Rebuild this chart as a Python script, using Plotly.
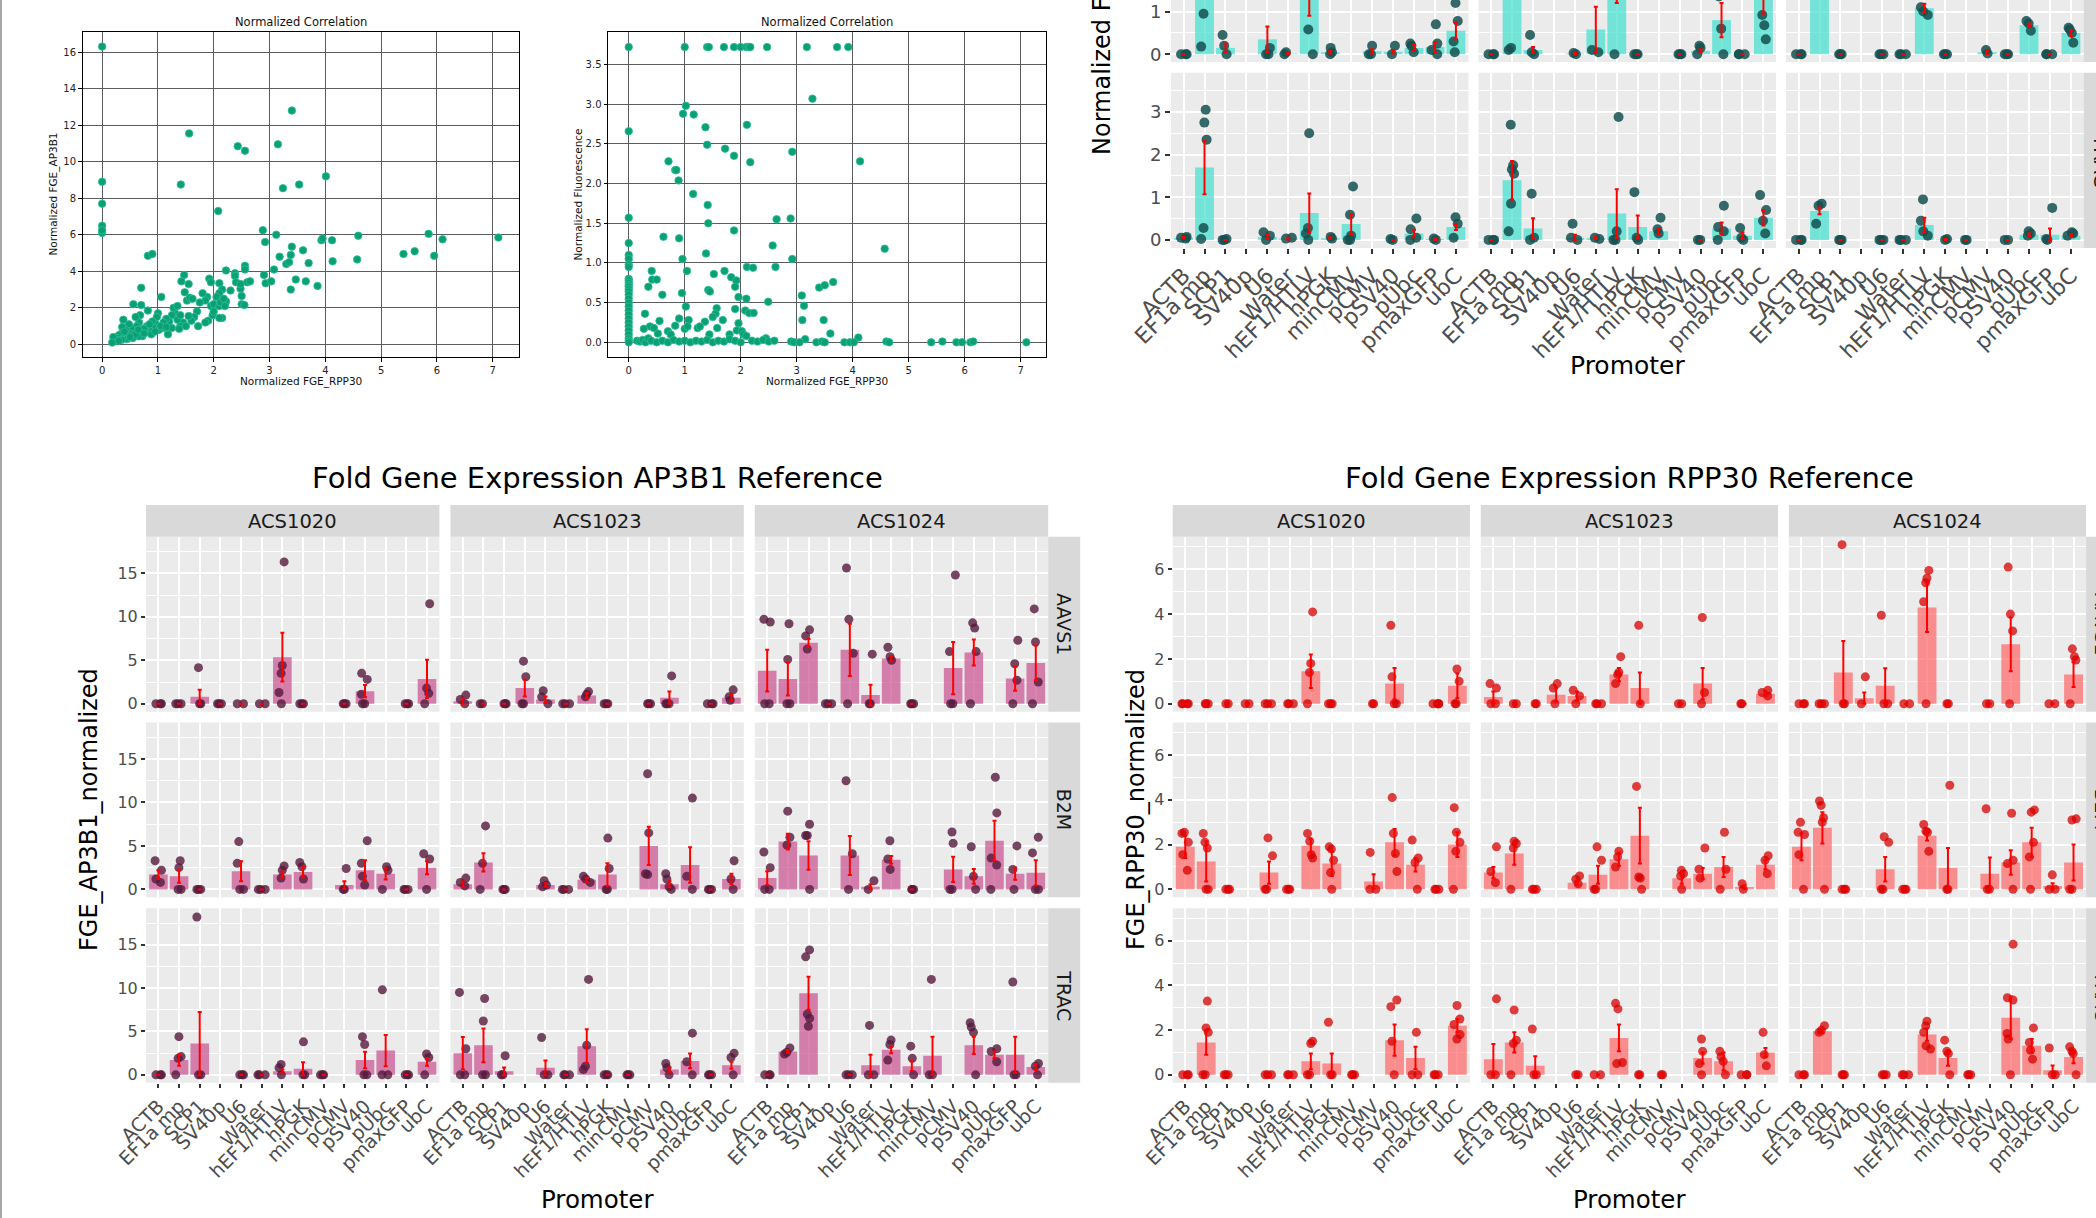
import plotly.graph_objects as go

W, H = 2096, 1218
FONT = "DejaVu Sans"

PROMOTERS = ["ACTB", "EF1a mp", "SCP1", "SV40p", "U6", "Water", "hEF1/HTLV", "hPGK",
             "minCMV", "pCMV", "pSV40", "pUbc", "pmaxGFP", "ubC"]
CELL_LINES = ["ACS1020", "ACS1023", "ACS1024"]
GENES = ["AAVS1", "B2M", "TRAC"]
N = None

# ---------------- scatter data (x = Normalized FGE_RPP30) ----------------
SC1_POINTS = [  # (RPP30, AP3B1)
    (0, 16.3), (0, 8.9), (0, 7.7), (0, 6.5), (0, 6.1), (0, 6.25),
    (1.56, 11.55), (1.41, 8.75), (2.08, 7.3), (2.43, 10.85), (2.56, 10.6), (3.4, 12.8),
    (3.15, 10.95), (3.24, 8.55), (3.53, 8.75), (4.01, 9.2),
    (0.82, 4.85), (0.9, 4.95), (2.88, 6.25), (2.92, 5.6), (3.12, 6.0), (3.18, 4.8), (3.38, 4.9),
    (3.4, 5.35), (3.6, 5.15), (3.3, 4.4), (3.35, 4.5), (3.7, 4.45), (3.93, 5.7), (3.95, 5.8),
    (4.12, 5.7), (4.13, 4.55), (4.59, 5.95), (4.57, 4.65), (5.4, 4.95), (5.6, 5.1), (5.85, 6.05),
    (5.95, 4.85), (6.1, 5.75), (7.1, 5.85),
    (3.08, 4.1), (2.9, 3.8), (2.93, 3.35), (3.03, 3.45), (3.38, 3.0), (3.47, 3.55), (3.65, 3.45), (3.86, 3.2),
    (2.22, 4.05), (2.38, 3.9), (2.38, 3.75), (2.56, 4.3), (2.56, 4.1), (2.6, 3.4), (2.65, 3.45),
    (2.4, 3.4), (2.48, 3.05), (2.48, 3.3), (2.3, 2.95), (2.5, 2.65), (2.5, 2.2), (2.55, 2.15), (2.22, 2.35),
    (1.47, 3.8), (1.42, 3.45), (1.55, 3.3), (1.48, 2.85), (1.52, 2.4), (1.57, 2.55), (1.62, 2.5),
    (1.92, 3.6), (1.95, 3.4), (2.1, 3.35), (2.15, 3.0), (2.1, 2.8), (2.05, 2.6), (1.88, 2.6), (1.85, 2.4),
    (1.8, 2.8), (1.95, 2.1), (2.0, 2.2), (2.1, 2.1), (2.15, 1.45), (2.1, 1.45), (1.9, 1.3), (1.72, 1.0),
    (1.75, 2.3), (1.7, 1.8), (1.65, 1.5), (1.6, 1.3), (1.55, 1.55), (1.45, 1.2), (1.4, 1.0), (1.38, 0.85),
    (1.35, 1.35), (1.3, 1.75), (1.28, 2.0), (1.35, 2.1), (1.25, 1.6), (1.2, 1.25), (1.15, 1.4), (1.1, 1.2),
    (1.06, 2.6), (1.0, 1.7), (0.98, 1.5), (0.95, 1.15), (0.92, 0.9), (0.9, 1.25), (0.85, 0.75), (0.82, 1.85),
    (0.8, 1.0), (0.78, 0.65), (0.75, 0.85), (0.7, 3.1), (0.7, 2.15), (0.68, 1.6), (0.66, 1.2), (0.62, 1.0),
    (0.6, 1.5), (0.58, 0.7), (0.56, 2.2), (0.55, 0.5), (0.52, 0.9), (0.5, 0.6), (0.48, 1.1), (0.45, 0.55),
    (0.42, 0.8), (0.4, 0.45), (0.38, 1.35), (0.36, 0.95), (0.35, 0.6), (0.32, 0.3), (0.3, 0.5), (0.28, 0.35),
    (0.25, 0.25), (0.22, 0.2), (0.2, 0.4), (0.18, 0.1), (1.18, 0.55), (1.02, 0.8), (1.12, 0.9), (0.88, 0.55),
    (0.72, 0.45), (0.65, 0.45), (1.25, 0.9), (1.5, 1.0), (1.85, 1.2), (1.98, 1.6), (2.0, 1.8), (2.12, 2.3),
    (2.18, 2.5), (2.2, 2.1), (1.4, 1.6), (0.55, 0.35), (0.45, 0.3), (0.4, 0.7), (0.6, 0.55), (0.5, 0.4),
    (0.35, 0.25), (0.3, 0.2), (0.65, 0.8), (0.75, 0.6), (1.05, 1.0), (1.15, 0.95), (0.95, 0.7), (0.85, 1.1),
]
SC2_POINTS = [  # (RPP30, Fluorescence)
    (0, 3.72), (1.0, 3.72), (1.4, 3.72), (1.43, 3.72), (1.7, 3.72), (1.88, 3.72), (2.0, 3.72),
    (2.1, 3.72), (2.14, 3.72), (2.17, 3.72), (2.47, 3.72), (3.18, 3.72), (3.72, 3.72), (3.92, 3.72),
    (3.28, 3.07), (0.97, 2.88), (1.02, 2.98), (1.16, 2.87), (1.37, 2.71), (2.11, 2.74), (0, 2.66),
    (1.4, 2.49), (1.72, 2.44), (1.88, 2.35), (2.92, 2.4), (2.17, 2.27), (4.13, 2.28), (0.71, 2.28),
    (0.83, 2.17), (0.85, 2.17), (0.89, 2.04), (1.15, 1.87), (1.41, 1.73), (1.42, 1.5), (0, 1.57),
    (2.64, 1.55), (2.89, 1.56), (1.88, 1.41), (0.62, 1.33), (0.9, 1.31), (2.57, 1.22), (1.38, 1.12),
    (4.57, 1.18), (0, 1.25), (0, 1.1), (0, 1.05), (0, 0.98), (0, 0.95), (0.96, 1.05), (2.92, 1.05),
    (1.04, 0.9), (1.71, 0.9), (2.11, 0.95), (2.22, 0.94), (2.62, 0.95), (0.41, 0.9), (0.42, 0.79),
    (0.5, 0.79), (0.35, 0.7), (1.52, 0.86), (1.83, 0.82), (1.92, 0.78), (1.9, 0.7), (3.4, 0.69),
    (3.5, 0.72), (3.65, 0.76), (0.6, 0.6), (0.95, 0.62), (1.42, 0.66), (1.45, 0.64), (1.96, 0.57),
    (2.1, 0.55), (3.09, 0.59), (3.13, 0.46), (2.49, 0.51), (1.02, 0.45), (1.9, 0.42), (2.08, 0.4),
    (2.15, 0.37), (2.23, 0.37), (1.57, 0.43), (1.55, 0.36), (1.5, 0.32), (0.29, 0.36), (0.55, 0.27),
    (0.9, 0.3), (1.07, 0.28), (1.36, 0.26), (1.68, 0.28), (3.1, 0.28), (3.48, 0.28), (1.96, 0.24),
    (0.38, 0.2), (0.45, 0.18), (0.27, 0.17), (0.83, 0.21), (1.23, 0.18), (1.27, 0.2), (1.58, 0.18),
    (1.0, 0.17), (1.05, 0.2), (1.93, 0.15), (2.02, 0.14), (3.6, 0.11), (1.44, 0.1), (0.52, 0.11),
    (0.7, 0.14), (0.75, 0.1), (1.8, 0.1), (2.05, 0.1), (4.1, 0.06), (3.15, 0.04), (2.45, 0.05), (2.1, 0.08),
    (0, 0.8), (0, 0.78), (0, 0.75), (0, 0.72), (0, 0.7), (0, 0.67), (0, 0.64), (0, 0.6), (0, 0.55),
    (0, 0.5), (0, 0.45), (0, 0.4), (0, 0.35), (0, 0.3), (0, 0.25), (0, 0.2), (0, 0.15), (0, 0.1),
    (0, 0.05), (0, 0.02), (0, 0.0),
    (0.15, 0.02), (0.2, 0.01), (0.25, 0.03), (0.3, 0.0), (0.35, 0.05), (0.4, 0.02), (0.5, 0.0),
    (0.6, 0.02), (0.7, 0.0), (0.8, 0.03), (0.9, 0.01), (1.0, 0.02), (1.1, 0.0), (1.2, 0.02), (1.3, 0.01),
    (1.4, 0.03), (1.5, 0.0), (1.6, 0.02), (1.7, 0.01), (1.8, 0.04), (1.9, 0.02), (2.0, 0.0), (2.2, 0.02),
    (2.3, 0.01), (2.4, 0.03), (2.5, 0.01), (2.6, 0.02), (2.9, 0.01), (2.95, 0.0), (3.05, 0.0), (3.35, 0.0),
    (3.45, 0.01), (3.5, 0.0), (3.85, 0.0), (3.95, 0.0), (4.02, 0.0), (4.6, 0.01), (4.65, 0.0), (5.4, 0.0),
    (5.6, 0.01), (5.85, 0.0), (5.95, 0.0), (6.1, 0.0), (6.15, 0.01), (7.1, 0.0),
]

# ---------------- AP3B1 reference (mean, se, replicate points) ----------------
AP3B1_MEAN = {
    "AAVS1|ACS1020": [0, 0, 0.8, 0, 0, 0, 5.35, 0, N, 0, 1.45, N, 0, 2.85],
    "AAVS1|ACS1023": [0.3, 0, 0, 1.8, 0.5, 0, 0.95, 0, N, 0, 0.7, N, 0, 0.7],
    "AAVS1|ACS1024": [3.8, 2.85, 7.0, 0, 6.2, 1.0, 5.2, 0, N, 4.1, 5.9, N, 2.9, 4.7],
    "B2M|ACS1020": [1.7, 1.5, 0, N, 2.1, 0, 1.7, 2.0, N, 0.5, 2.2, 1.8, 0, 2.5],
    "B2M|ACS1023": [0.6, 3.1, 0, N, 0.5, 0, 1.1, 1.7, N, 5.0, 0.6, 2.8, 0, 1.2],
    "B2M|ACS1024": [1.3, 5.5, 3.9, N, 3.9, 0.3, 3.4, 0, N, 2.3, 1.5, 5.6, 1.8, 1.9],
    "TRAC|ACS1020": [0, 1.7, 3.6, N, 0, 0, 0.4, 0.7, 0, N, 1.7, 2.8, 0, 1.5],
    "TRAC|ACS1023": [2.5, 3.4, 0.4, N, 0.8, 0, 3.3, 0, 0, N, 0.6, 1.6, 0, 1.1],
    "TRAC|ACS1024": [0, 2.7, 9.4, N, 0, 1.1, 2.9, 1.0, 2.2, N, 3.4, 2.3, 2.3, 0.9],
}
AP3B1_SE = {
    "AAVS1|ACS1020": [0, 0, 0.8, 0, 0, 0, 2.8, 0, N, 0, 0.7, N, 0, 2.2],
    "AAVS1|ACS1023": [0.35, 0, 0, 0.95, 0.35, 0, 0.25, 0, N, 0, 0.7, N, 0, 0.3],
    "AAVS1|ACS1024": [2.4, 1.9, 0.45, 0, 3.0, 1.2, 0.3, 0, N, 3.0, 1.5, N, 1.4, 2.0],
    "B2M|ACS1020": [0.5, 0.75, 0, N, 1.15, 0, 0.35, 0.6, N, 0.45, 1.15, 0.65, 0, 0.75],
    "B2M|ACS1023": [0.3, 1.05, 0, N, 0.2, 0, 0.25, 1.3, N, 2.2, 0.35, 2.05, 0, 0.6],
    "B2M|ACS1024": [0.8, 0.9, 1.65, N, 2.25, 0.3, 0.45, 0, N, 1.45, 0.85, 2.3, 0.7, 1.45],
    "TRAC|ACS1020": [0, 0.65, 3.65, N, 0, 0, 0.2, 0.75, 0, N, 0.95, 1.8, 0, 0.45],
    "TRAC|ACS1023": [1.85, 1.95, 0.45, N, 0.85, 0, 1.95, 0, 0, N, 0.25, 0.85, 0, 0.4],
    "TRAC|ACS1024": [0, 0.15, 1.9, N, 0, 1.2, 0.4, 0.55, 2.2, N, 1.0, 0.4, 2.1, 0.35],
}
AP3B1_PTS = {
    "AAVS1|ACS1020": [[0, 0, 0], [0, 0, 0], [4.15, 0, 0], [0, 0, 0], [0, 0], [0, 0], [16.3, 4.4, 3.5, 1.3, 0],
                      [0, 0, 0], [], [0, 0, 0], [3.5, 2.8, 1.1, 0, 0], [], [0, 0, 0], [11.5, 1.8, 1.2, 0]],
    "AAVS1|ACS1023": [[1.0, 0.5, 0], [0, 0], [0, 0, 0], [4.9, 3.1, 0, 0], [1.5, 0.8, 0], [0, 0, 0], [1.4, 1.1, 0.8],
                      [0, 0, 0], [], [0, 0, 0], [3.2, 0, 0, 0], [], [0, 0, 0], [1.6, 0.8, 0.4]],
    "AAVS1|ACS1024": [[9.7, 9.4, 0, 0], [9.2, 5.1, 0, 0], [8.5, 7.8, 6.3], [0, 0, 0], [15.6, 9.7, 5.8, 0], [5.7, 0, 0],
                      [6.5, 5.4, 5.0], [0, 0, 0], [], [14.8, 6.0, 0, 0], [9.3, 8.7, 6.0, 0], [], [7.3, 4.6, 2.7, 0],
                      [10.9, 7.1, 2.5, 0]],
    "B2M|ACS1020": [[3.3, 2.2, 1.2, 0.8], [3.3, 2.5, 0, 0], [0, 0, 0], [], [5.5, 3.0, 0, 0], [0, 0, 0], [2.7, 2.2, 1.3],
                    [3.1, 2.6, 1.2], [], [2.4, 0, 0], [5.6, 3.0, 1.5, 0.5], [2.6, 2.2, 0], [0, 0, 0], [4.1, 3.5, 0]],
    "B2M|ACS1023": [[1.3, 0.8, 0.4], [7.3, 3.0, 0], [0, 0, 0], [], [1.0, 0.5, 0.3], [0, 0, 0], [1.5, 1.2, 0.8],
                    [5.9, 2.4, 0, 0], [], [13.3, 6.5, 1.8, 1.7], [1.8, 1.2, 0.3, 0], [10.5, 1.5, 0], [0, 0, 0],
                    [3.3, 1.2, 0]],
    "B2M|ACS1024": [[4.3, 2.5, 0, 0], [9.0, 6.0, 5.1], [7.5, 6.2, 6.2, 0], [], [12.5, 4.1, 0], [1.0, 0],
                    [5.6, 3.5, 2.3], [0, 0, 0], [], [6.6, 5.3, 0, 0], [4.9, 1.5, 0], [12.9, 8.8, 3.6, 2.8, 0],
                    [5.0, 2.3, 0], [6.0, 4.2, 0, 0]],
    "TRAC|ACS1020": [[0, 0, 0], [4.4, 2.1, 1.9, 0], [18.2, 0, 0], [], [0, 0, 0], [0, 0, 0], [1.2, 0.8, 0], [3.8, 0, 0],
                     [0, 0, 0], [], [4.4, 3.5, 0, 0], [9.8, 0, 0], [0, 0, 0], [2.4, 2.0, 0]],
    "TRAC|ACS1023": [[9.5, 3.0, 0, 0], [8.8, 6.2, 0, 0], [2.2, 0, 0], [], [4.3, 0, 0], [0, 0, 0],
                     [11.0, 3.4, 1.0, 0.6], [0, 0, 0], [0, 0, 0], [], [1.3, 0.8, 0], [4.8, 1.5, 0], [0, 0, 0],
                     [2.5, 2.0, 0]],
    "TRAC|ACS1024": [[0, 0, 0], [3.1, 2.6, 2.4], [14.4, 13.6, 7.0, 6.5, 5.6], [], [0, 0, 0], [5.7, 0, 0],
                     [4.0, 3.5, 1.7], [3.3, 1.9, 0], [11.0, 0, 0], [], [6.0, 5.5, 4.9, 0], [3.0, 2.7, 1.5],
                     [10.7, 0, 0], [1.3, 1.0, 0]],
}

# ---------------- RPP30 reference ----------------
RPP30_MEAN = {
    "AAVS1|ACS1020": [0, 0, 0, 0, 0, 0, 1.45, 0, N, 0, 0.9, N, 0, 0.8],
    "AAVS1|ACS1023": [0.3, 0, 0, 0.4, 0.35, 0, 1.3, 0.7, N, 0, 0.9, N, 0, 0.45],
    "AAVS1|ACS1024": [0, 0, 1.4, 0.25, 0.8, 0, 4.3, 0, N, 0, 2.65, N, 0, 1.3],
    "B2M|ACS1020": [1.9, 1.25, 0, N, 0.75, 0, 1.95, 1.15, N, 0.35, 2.1, 1.1, 0, 2.0],
    "B2M|ACS1023": [0.75, 1.6, 0, N, 0.3, 0.65, 1.35, 2.4, N, 0.5, 0.7, 1.0, 0.1, 1.1],
    "B2M|ACS1024": [1.9, 2.75, 0, N, 0.9, 0, 2.4, 0.95, N, 0.7, 1.2, 2.1, 0.15, 1.2],
    "TRAC|ACS1020": [0, 1.45, 0, N, 0, 0, 0.6, 0.5, 0, N, 1.55, 0.75, 0, 2.2],
    "TRAC|ACS1023": [0.7, 1.45, 0.4, N, 0, 0, 1.65, 0, 0, N, 0.75, 0.6, 0, 1.0],
    "TRAC|ACS1024": [0, 1.95, 0, N, 0, 0, 1.8, 0.75, 0, N, 2.55, 1.3, 0.2, 0.8],
}
RPP30_SE = {
    "AAVS1|ACS1020": [0, 0, 0, 0, 0, 0, 0.75, 0, N, 0, 0.7, N, 0, 0.55],
    "AAVS1|ACS1023": [0.25, 0, 0, 0.3, 0.2, 0, 0.3, 0.7, N, 0, 0.7, N, 0, 0.1],
    "AAVS1|ACS1024": [0, 0, 1.4, 0.25, 0.78, 0, 1.1, 0, N, 0, 1.2, N, 0, 0.55],
    "B2M|ACS1020": [0.5, 0.9, 0, N, 0.5, 0, 0.3, 0.55, N, 0.32, 0.6, 0.3, 0, 0.55],
    "B2M|ACS1023": [0.25, 0.5, 0, N, 0.1, 0.4, 0.3, 1.25, N, 0.25, 0.25, 0.45, 0.08, 0.2],
    "B2M|ACS1024": [0.6, 0.7, 0, N, 0.55, 0, 0.22, 0.9, N, 0.72, 0.55, 0.65, 0.12, 0.8],
    "TRAC|ACS1020": [0, 0.55, 0, N, 0, 0, 0.35, 0.45, 0, N, 0.7, 0.5, 0, 0.3],
    "TRAC|ACS1023": [0.68, 0.45, 0.43, N, 0, 0, 0.6, 0, 0, N, 0.25, 0.4, 0, 0.2],
    "TRAC|ACS1024": [0, 0.1, 0, N, 0, 0, 0.28, 0.35, 0, N, 0.95, 0.3, 0.22, 0.28],
}
RPP30_PTS = {
    "AAVS1|ACS1020": [[0, 0, 0, 0], [0, 0, 0], [0, 0], [0, 0], [0, 0, 0], [0, 0, 0], [4.1, 1.8, 1.4, 0], [0, 0, 0],
                      [], [0, 0], [3.5, 1.2, 0, 0], [], [0, 0, 0, 0], [1.55, 1.0, 0, 0]],
    "AAVS1|ACS1023": [[0.9, 0.7, 0, 0], [0, 0], [0, 0], [0.9, 0.7, 0], [0.6, 0.35, 0], [0, 0, 0],
                      [2.1, 1.4, 1.3, 0.9], [3.5, 0], [], [0, 0], [3.85, 0.5, 0], [], [0, 0], [0.6, 0.5, 0.35]],
    "AAVS1|ACS1024": [[0, 0, 0], [0, 0, 0], [7.1, 0, 0], [1.2, 0], [3.95, 0, 0], [0, 0],
                      [5.95, 5.6, 5.4, 4.55, 0], [0, 0], [], [0, 0], [6.1, 4.0, 3.25, 0], [], [0, 0],
                      [2.45, 2.1, 1.95, 0]],
    "B2M|ACS1020": [[2.55, 2.5, 2.1, 1.55, 0.85], [2.5, 2.1, 1.85, 0, 0], [0, 0, 0], [], [2.3, 1.5, 0, 0],
                    [0, 0, 0], [2.5, 2.15, 1.55, 1.4], [1.9, 1.8, 1.3, 0.75, 0], [], [1.65, 0, 0],
                    [4.1, 2.5, 1.6, 0.8], [2.2, 1.4, 1.2, 0], [0, 0, 0], [3.65, 2.55, 2.1, 1.7, 0]],
    "B2M|ACS1023": [[1.9, 0.8, 0.3], [2.15, 2.05, 1.85, 0], [0, 0, 0], [], [0.6, 0.45, 0.25], [1.9, 1.3, 0, 0],
                    [1.7, 1.45, 1.0], [4.6, 0.55, 0.5, 0], [], [0.85, 0.7, 0.6, 0], [1.85, 0.9, 0.5],
                    [2.55, 0.9, 0], [0.25, 0], [1.5, 1.3, 0.7]],
    "B2M|ACS1024": [[3.0, 2.55, 2.45, 1.55, 0], [3.95, 3.75, 3.2, 3.0, 0], [0, 0, 0], [], [2.35, 2.1, 0, 0],
                    [0, 0, 0], [2.9, 2.6, 2.55, 1.7], [4.65, 0, 0], [], [3.6, 0, 0], [3.4, 1.3, 1.15, 0],
                    [3.55, 3.45, 2.1, 1.45, 0], [0.65, 0, 0], [3.15, 3.1, 0, 0]],
    "TRAC|ACS1020": [[0, 0, 0], [3.3, 2.1, 1.9, 0, 0], [0, 0, 0], [], [0, 0, 0], [0, 0, 0], [1.5, 1.4, 0, 0],
                     [2.35, 0, 0], [0, 0, 0], [], [3.35, 3.05, 1.5, 0], [1.9, 0, 0], [0, 0, 0],
                     [3.1, 2.5, 2.25, 1.8, 1.6]],
    "TRAC|ACS1023": [[3.4, 0, 0], [2.9, 1.55, 1.4, 0], [2.05, 0, 0], [], [0, 0], [0, 0], [3.2, 2.95, 0.55, 0.5],
                     [0, 0], [0, 0], [], [1.6, 1.05, 0.5, 0], [1.05, 0.8, 0.6, 0], [0, 0, 0], [1.9, 0.9, 0.4]],
    "TRAC|ACS1024": [[0, 0, 0], [2.2, 2.0, 1.9], [0, 0, 0], [], [0, 0, 0], [0, 0, 0], [2.4, 2.2, 1.9, 1.3, 1.15],
                     [1.55, 1.05, 0.95, 0], [0, 0, 0], [], [5.85, 3.45, 3.35, 1.85, 1.6, 0], [2.1, 1.45, 1.1, 0.7],
                     [1.2, 0, 0], [1.25, 1.05, 0.95, 0]],
}

# ---------------- Normalized Fluorescence (top-right, partially visible) ----------------
FLUOR_MEAN = {
    "B2M|ACS1020": [0, 2.2, 0.15, N, 0.35, 0.02, 1.6, 0.05, N, 0.07, 0.06, 0.15, 0.17, 0.55],
    "B2M|ACS1023": [0, 2.0, 0.1, N, 0.02, 0.58, 1.8, 0, N, 0, 0.08, 0.8, 0, 1.35],
    "B2M|ACS1024": [0, 2.5, 0, N, 0, 0, 1.08, 0, N, 0.05, 0, 0.68, 0, 0.5],
    "TRAC|ACS1020": [0.05, 1.7, 0, N, 0.07, 0.03, 0.63, 0.04, 0.37, N, 0, 0.15, 0.02, 0.3],
    "TRAC|ACS1023": [0, 1.4, 0.27, N, 0.05, 0.04, 0.62, 0.3, 0.2, N, 0, 0.27, 0.1, 0.52],
    "TRAC|ACS1024": [0, 0.68, 0, N, 0, 0, 0.35, 0.01, 0, N, 0, 0.12, 0.12, 0.1],
}
FLUOR_SE = {
    "B2M|ACS1020": [0, 0.9, 0.1, N, 0.3, 0.02, 0.7, 0.03, N, 0.05, 0.04, 0.07, 0.12, 0.2],
    "B2M|ACS1023": [0, 0.6, 0.07, N, 0.02, 0.53, 0.6, 0, N, 0, 0.04, 0.4, 0, 0.4],
    "B2M|ACS1024": [0, 0.8, 0, N, 0, 0, 0.1, 0, N, 0.04, 0, 0.04, 0, 0.07],
    "TRAC|ACS1020": [0.02, 0.63, 0, N, 0.05, 0.02, 0.46, 0.02, 0.23, N, 0, 0.09, 0.02, 0.07],
    "TRAC|ACS1023": [0, 0.45, 0.24, N, 0.07, 0.02, 0.57, 0.27, 0.08, N, 0, 0.14, 0.08, 0.18],
    "TRAC|ACS1024": [0, 0.08, 0, N, 0, 0, 0.17, 0.01, 0, N, 0, 0.03, 0.15, 0.03],
}
FLUOR_PTS = {
    "B2M|ACS1020": [[0, 0, 0], [3.5, 2.8, 0.95, 0.18], [0.45, 0.2, 0], [], [0.15, 0, 0], [0.05, 0],
                    [2.6, 2.2, 0.58, 0], [0.15, 0.05, 0], [], [0.2, 0, 0], [0.2, 0], [0.25, 0.2, 0.05],
                    [0.7, 0.25, 0.1, 0], [1.2, 0.78, 0.3, 0.05]],
    "B2M|ACS1023": [[0, 0, 0], [3.4, 2.4, 0.15, 0.1], [0.45, 0.05, 0], [], [0.03, 0], [0.1, 0.05],
                    [2.6, 1.5, 0], [0, 0, 0], [], [0, 0, 0], [0.2, 0.15, 0], [1.35, 0.6, 0], [0, 0, 0],
                    [0.92, 0.68, 0.35]],
    "B2M|ACS1024": [[0, 0, 0], [3.3, 2.4, 1.8], [0, 0, 0], [], [0, 0, 0], [0, 0, 0], [1.1, 1.0, 0.92],
                    [0, 0, 0], [], [0.1, 0.02], [0, 0, 0], [0.78, 0.72, 0.55], [0, 0, 0], [0.62, 0.58, 0.5, 0.27]],
    "TRAC|ACS1020": [[0.07, 0.05, 0.03], [3.05, 2.75, 2.35, 0.28, 0.02], [0.02, 0, 0], [], [0.18, 0.1, 0],
                     [0.05, 0.03], [2.5, 0.28, 0.15, 0], [0.07, 0.03], [1.25, 0.59, 0.1, 0, 0], [], [0.02, 0],
                     [0.5, 0.25, 0.05, 0], [0.03, 0], [0.53, 0.38, 0.05]],
    "TRAC|ACS1023": [[0, 0, 0], [2.7, 1.75, 1.65, 1.55, 0.85, 0.2], [1.08, 0.05, 0], [], [0.38, 0.05, 0],
                     [0.05, 0.02], [2.88, 0.2, 0, 0], [1.12, 0.05, 0], [0.52, 0.25, 0.15], [], [0, 0],
                     [0.8, 0.3, 0.2, 0], [0.28, 0.05, 0], [1.05, 0.7, 0.45, 0.15]],
    "TRAC|ACS1024": [[0, 0, 0], [0.85, 0.8, 0.38], [0, 0, 0], [], [0, 0, 0], [0, 0, 0], [0.95, 0.45, 0.2, 0.1],
                     [0.02, 0], [0, 0], [], [0, 0], [0.2, 0.15, 0.1], [0.75, 0.02, 0], [0.18, 0.15, 0.1]],
}

# =====================================================================
fig = go.Figure()
layout_axes = {}
shapes = []
annotations = []
naxes = [0]


def fx(v):
    return v / W


def fy(v):
    return 1 - v / H


def new_axes(x0, x1, y0, y1, xa, ya):
    naxes[0] += 1
    s = "" if naxes[0] == 1 else str(naxes[0])
    xa = dict(xa, domain=[fx(x0), fx(x1)], anchor="y" + s, automargin=False)
    ya = dict(ya, domain=[max(0, fy(y1)), min(1, fy(y0))], anchor="x" + s, automargin=False)
    layout_axes["xaxis" + s] = xa
    layout_axes["yaxis" + s] = ya
    return "x" + s, "y" + s


def rect(x0, y0, x1, y1, color, layer="below"):
    shapes.append(dict(type="rect", xref="paper", yref="paper", x0=fx(x0), x1=fx(x1),
                       y0=fy(y1), y1=fy(y0), fillcolor=color, line=dict(width=0), layer=layer))


def text(t, x, y, size, color="black", angle=0, xanchor="center", yanchor="middle"):
    annotations.append(dict(text=t, x=fx(x), y=fy(y), xref="paper", yref="paper", showarrow=False,
                            textangle=angle, xanchor=xanchor, yanchor=yanchor,
                            font=dict(family=FONT, size=size, color=color)))


# ---------------- scatter panels ----------------
def scatter_panel(points, x0, x1, y0, y1, xr, yr, ydtick, yfmt, title, xlabel, ylabel, ylab_x):
    ax = dict(range=xr, dtick=1, tick0=0, showline=True, mirror=True, linecolor="black", linewidth=1,
              ticks="outside", ticklen=3.5, tickwidth=1, tickcolor="black", showgrid=True,
              gridcolor="#5c5c5c", gridwidth=1.3, zeroline=False,
              tickfont=dict(family=FONT, size=10, color="#222222"), fixedrange=True)
    ay = dict(ax, range=yr, dtick=ydtick, tickformat=yfmt)
    xr_, yr_ = new_axes(x0, x1, y0, y1, ax, ay)
    fig.add_trace(go.Scatter(x=[p[0] for p in points], y=[p[1] for p in points], mode="markers",
                             marker=dict(color="#0b9f76", size=7.5, line=dict(color="#2bbf95", width=0.8)),
                             xaxis=xr_, yaxis=yr_, showlegend=False, hoverinfo="skip"))
    text(title, (x0 + x1) / 2, 22, 11.5, "#111111")
    text(xlabel, (x0 + x1) / 2, 381, 10.5, "#111111")
    text(ylabel, ylab_x, (y0 + y1) / 2, 10.5, "#111111", angle=-90)


scatter_panel(SC1_POINTS, 82.6, 519, 32, 357, [-0.35, 7.47], [-0.69, 17.1], 2, "d",
              "Normalized Correlation", "Normalized FGE_RPP30", "Normalized FGE_AP3B1", 53)
scatter_panel(SC2_POINTS, 608, 1046, 32, 357, [-0.37, 7.45], [-0.185, 3.91], 0.5, ".1f",
              "Normalized Correlation", "Normalized FGE_RPP30", "Normalized Fluorescence", 577)


# ---------------- faceted bar charts ----------------
def facet_grid(means, ses, pts, rows, col_x, col_w, st):
    for (gene, y0, y1, yr, bottom) in rows:
        for ci, cell in enumerate(CELL_LINES):
            key = gene + "|" + cell
            x0 = col_x[ci]
            x1 = x0 + col_w
            rect(x0, y0, x1, y1, "#EBEBEB")
            xa = dict(type="category", categoryorder="array", categoryarray=PROMOTERS, range=[-0.6, 13.6],
                      tickmode="array", tickvals=PROMOTERS, ticktext=PROMOTERS,
                      showgrid=True, gridcolor="white", gridwidth=st["gw"], zeroline=False, showline=False,
                      showticklabels=bottom, ticks="outside" if bottom else "", ticklen=st["tl"], tickwidth=1.5,
                      tickcolor="#333333", tickangle=-45,
                      tickfont=dict(family=FONT, size=st["xfs"], color="#4D4D4D"), fixedrange=True)
            ya = dict(range=yr, dtick=st["dtick"], tick0=0, showgrid=True, gridcolor="white",
                      gridwidth=st["gw"],
                      minor=dict(dtick=st["dtick"] / 2, tick0=0, showgrid=True, gridcolor="white",
                                 gridwidth=st["gw"] / 2),
                      zeroline=False, showline=False, showticklabels=(ci == 0),
                      ticks="outside" if ci == 0 else "", ticklen=st["tl"], tickwidth=1.5,
                      tickcolor="#333333", tickfont=dict(family=FONT, size=st["yfs"], color="#4D4D4D"),
                      fixedrange=True)
            xr_, yr_ = new_axes(x0, x1, y0, y1, xa, ya)
            m = means[key]
            s = ses[key]
            p = pts[key]
            idx = [i for i in range(len(PROMOTERS)) if m[i] is not None]
            cats = [PROMOTERS[i] for i in idx]
            fig.add_trace(go.Bar(x=cats, y=[m[i] for i in idx], width=0.9,
                                 marker=dict(color=st["bar"], line=dict(width=0)),
                                 xaxis=xr_, yaxis=yr_, showlegend=False, hoverinfo="skip"))
            bx, by = [], []
            for i in idx:
                for v in p[i]:
                    bx.append(PROMOTERS[i])
                    by.append(v)
            fig.add_trace(go.Box(x=bx, y=by, boxpoints="all", jitter=0.6, pointpos=0,
                                 fillcolor="rgba(0,0,0,0)", line=dict(width=0, color="rgba(0,0,0,0)"),
                                 marker=dict(color=st["pt"], size=st["ps"], line=dict(width=0)),
                                 xaxis=xr_, yaxis=yr_, showlegend=False, hoverinfo="skip"))
            fig.add_trace(go.Scatter(x=cats, y=[m[i] for i in idx], mode="markers",
                                     marker=dict(size=1, color="rgba(0,0,0,0)"),
                                     error_y=dict(type="data", array=[s[i] for i in idx], color="red",
                                                  thickness=2, width=2),
                                     xaxis=xr_, yaxis=yr_, showlegend=False, hoverinfo="skip"))


ROWS_BOTTOM = [(536.7, 711.7), (722.5, 897.3), (908.3, 1082.7)]
STRIP_W = 32

# AP3B1 (bottom-left)
ap_cols = [146, 450.4, 754.8]
ap_w = 293.4
facet_grid(AP3B1_MEAN, AP3B1_SE, AP3B1_PTS,
           [(g, r[0], r[1], [-0.91, 19.2], gi == 2) for gi, (g, r) in enumerate(zip(GENES, ROWS_BOTTOM))],
           ap_cols, ap_w,
           dict(gw=2, tl=4, xfs=19, yfs=16, dtick=5, bar="rgba(199,78,142,0.7)", pt="rgba(85,25,60,0.8)",
                ps=9))
# RPP30 (bottom-right)
rp_cols = [1172.7, 1480.8, 1788.9]
rp_w = 297.2
facet_grid(RPP30_MEAN, RPP30_SE, RPP30_PTS,
           [(g, r[0], r[1], [-0.355, 7.455], gi == 2) for gi, (g, r) in enumerate(zip(GENES, ROWS_BOTTOM))],
           rp_cols, rp_w,
           dict(gw=2, tl=4, xfs=19, yfs=16, dtick=2, bar="rgba(255,100,100,0.7)", pt="rgba(215,0,0,0.75)",
                ps=9))
# Fluorescence (top-right, cropped)
fl_cols = [1171, 1478.5, 1786]
fl_w = 297.5
FL_ROWS = [("B2M", 0, 62, [-0.18, 1.27], False), ("TRAC", 72.7, 248, [-0.19, 3.92], True)]
facet_grid(FLUOR_MEAN, FLUOR_SE, FLUOR_PTS, FL_ROWS, fl_cols, fl_w,
           dict(gw=2.2, tl=5, xfs=22, yfs=18, dtick=1, bar="rgba(64,224,208,0.7)", pt="rgba(20,80,80,0.85)",
                ps=10))

# strips, titles, axis titles
for cols, w, title, ylab, ylab_x in [(ap_cols, ap_w, "Fold Gene Expression AP3B1 Reference",
                                      "FGE_AP3B1_normalized", 89),
                                     (rp_cols, rp_w, "Fold Gene Expression RPP30 Reference",
                                      "FGE_RPP30_normalized", 1136)]:
    for ci, cell in enumerate(CELL_LINES):
        rect(cols[ci], 505, cols[ci] + w, 536.7, "#D9D9D9")
        text(cell, cols[ci] + w / 2, 521, 19.5, "#1A1A1A")
    sx = cols[2] + w
    for gi, (g, r) in enumerate(zip(GENES, ROWS_BOTTOM)):
        rect(sx, r[0], sx + STRIP_W, r[1], "#D9D9D9")
        text(g, sx + STRIP_W / 2, (r[0] + r[1]) / 2, 19, "#1A1A1A", angle=90)
    cx = (cols[0] + cols[2] + w) / 2
    text(title, cx, 478, 29, "black")
    text("Promoter", cx, 1199, 24.5, "black")
    text(ylab, ylab_x, 810, 24, "black", angle=-90)

fsx = fl_cols[2] + fl_w
for (g, y0, y1, yr, bottom) in FL_ROWS:
    rect(fsx, y0, fsx + STRIP_W, y1, "#D9D9D9")
text("TRAC", fsx + STRIP_W / 2 + 1, (72.7 + 248) / 2, 20, "#1A1A1A", angle=90)
text("Promoter", (fl_cols[0] + fsx) / 2, 365, 25, "black")
text("Normalized Fluorescence", 1102, 157, 24, "black", angle=-90, yanchor="bottom")

# left page border
shapes.append(dict(type="line", xref="paper", yref="paper", x0=fx(1), x1=fx(1), y0=0, y1=1,
                   line=dict(color="#8a8a8a", width=1.5), layer="above"))

fig.update_layout(**layout_axes)
fig.update_layout(shapes=shapes, annotations=annotations, width=W, height=H,
                  margin=dict(l=0, r=0, t=0, b=0, autoexpand=False), paper_bgcolor="white",
                  plot_bgcolor="rgba(0,0,0,0)",
                  boxgap=0.1, barmode="overlay", boxmode="overlay", showlegend=False,
                  font=dict(family=FONT))
fig.write_html("out.html", config={"displayModeBar": False},
               post_script="document.body.style.margin='0';"
                           "document.documentElement.style.overflow='hidden';")
